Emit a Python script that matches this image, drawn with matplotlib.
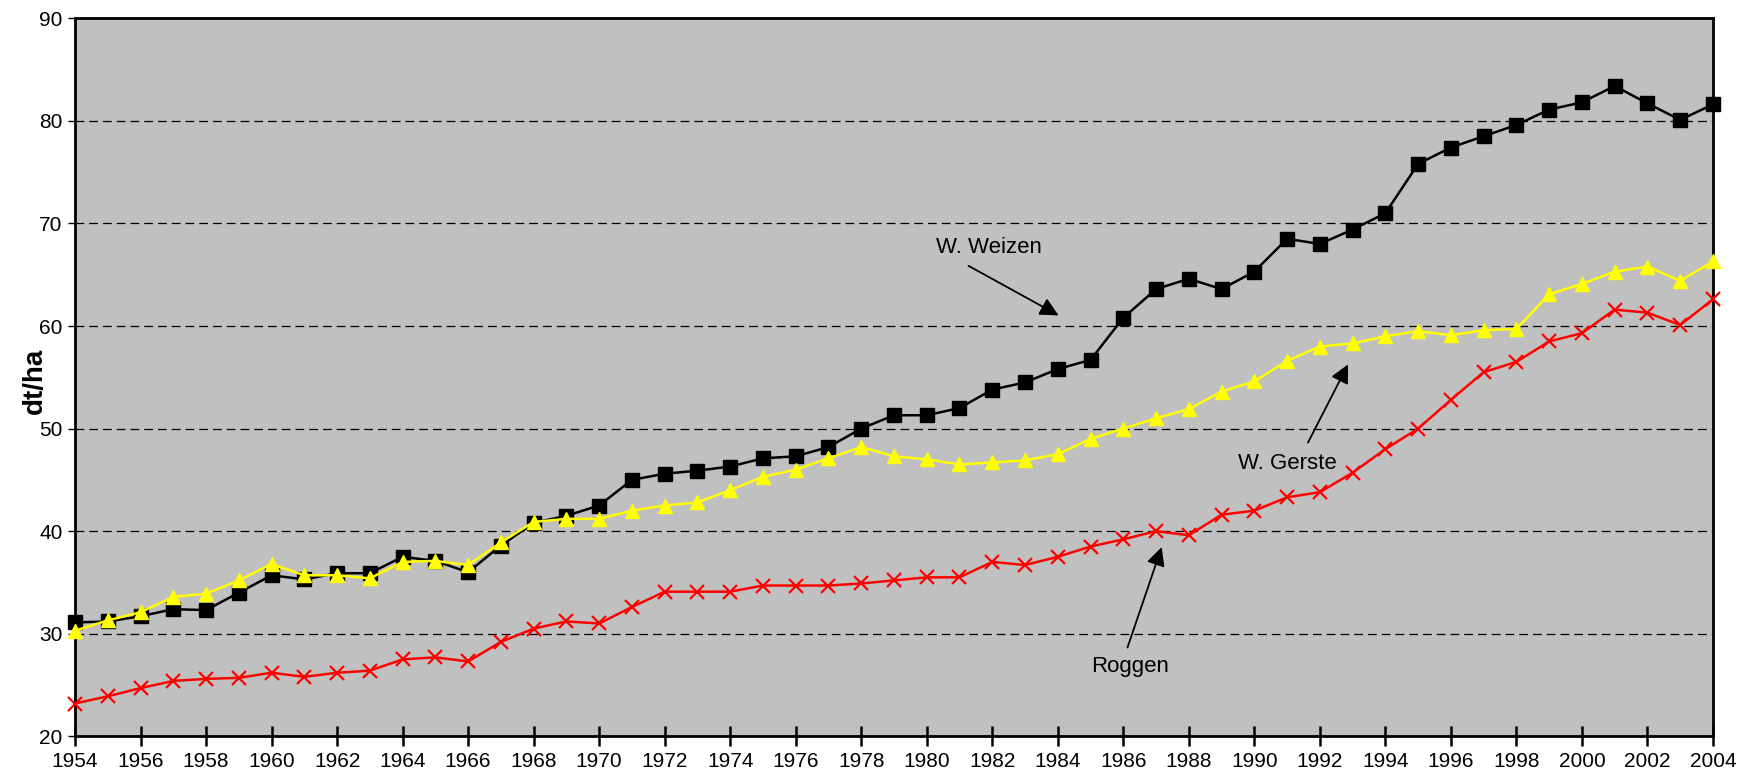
import matplotlib
matplotlib.use("Agg")
import matplotlib.pyplot as plt

plt.rcParams['font.family'] = ['Liberation Sans', 'DejaVu Sans']

jahre = list(range(1954, 2005))

weizen = [31.1, 31.2, 31.7, 32.4, 32.3, 34.0, 35.7, 35.3, 35.9, 35.9,
          37.5, 37.1, 36.0, 38.6, 40.8, 41.5, 42.5, 45.0, 45.6, 45.9,
          46.3, 47.1, 47.3, 48.2, 50.0, 51.3, 51.3, 52.0, 53.8, 54.5,
          55.8, 56.7, 60.8, 63.6, 64.6, 63.6, 65.3, 68.5, 68.0, 69.4,
          71.0, 75.8, 77.4, 78.5, 79.6, 81.1, 81.8, 83.4, 81.7, 80.1,
          81.6]

gerste = [30.3, 31.3, 32.1, 33.6, 33.9, 35.2, 36.8, 35.7, 35.7, 35.4,
          37.0, 37.1, 36.7, 38.9, 40.9, 41.2, 41.2, 42.0, 42.5, 42.8,
          44.0, 45.3, 46.0, 47.1, 48.2, 47.3, 47.0, 46.5, 46.7, 46.9,
          47.5, 49.0, 50.0, 51.0, 51.9, 53.6, 54.6, 56.6, 58.0, 58.3,
          59.0, 59.5, 59.1, 59.6, 59.7, 63.1, 64.1, 65.3, 65.8, 64.4,
          66.3]

roggen = [23.2, 23.9, 24.7, 25.4, 25.6, 25.7, 26.2, 25.8, 26.2, 26.4,
          27.5, 27.7, 27.3, 29.2, 30.5, 31.2, 31.0, 32.6, 34.1, 34.1,
          34.1, 34.7, 34.7, 34.7, 34.9, 35.2, 35.5, 35.5, 37.0, 36.7,
          37.5, 38.5, 39.2, 40.0, 39.6, 41.6, 42.0, 43.3, 43.8, 45.7,
          48.0, 50.0, 52.8, 55.5, 56.5, 58.5, 59.3, 61.6, 61.3, 60.1,
          62.6]

fig = plt.figure(figsize=(17.44, 7.81), dpi=100)
ax = fig.add_axes([0.0430, 0.0572, 0.9392, 0.9194])
ax.set_facecolor('#C0C0C0')

ax.plot(jahre, weizen, color='black', lw=1.8, marker='s', ms=9.5,
        mfc='black', mec='black', zorder=3, clip_on=False)
ax.plot(jahre, gerste, color='#FFFF00', lw=1.8, marker='^', ms=10.5,
        mfc='#FFFF00', mec='#FFFF00', zorder=4, clip_on=False)
ax.plot(jahre, roggen, color='#FF0000', lw=1.8, marker='x', ms=10,
        mew=1.6, zorder=3, clip_on=False)

ax.set_xlim(1954, 2004)
ax.set_ylim(20, 90)
ax.set_xticks(range(1954, 2005, 2))
ax.set_yticks(range(20, 91, 10))

ax.yaxis.grid(True, color='black', linestyle=(0, (7, 4)), lw=0.9)
ax.set_axisbelow(True)

for s in ax.spines.values():
    s.set_linewidth(2)
ax.tick_params(axis='x', direction='inout', length=14, width=1.8,
               labelsize=15, pad=4)
ax.tick_params(axis='y', direction='out', length=5, width=1,
               labelsize=15, pad=4)

ax.set_ylabel('dt/ha', fontsize=20, fontweight='bold')
ax.yaxis.set_label_coords(-0.0165, 0.495)

pfeil = dict(arrowstyle='-|>', color='black', lw=1.3, mutation_scale=28)
ax.annotate('', xy=(1984.1, 60.9), xytext=(1981.2, 66.0), arrowprops=pfeil)
ax.text(1981.9, 67.7, 'W. Weizen', fontsize=16, ha='center', va='center')

ax.annotate('', xy=(1992.9, 56.5), xytext=(1991.6, 48.4), arrowprops=pfeil)
ax.text(1991.0, 46.6, 'W. Gerste', fontsize=16, ha='center', va='center')

ax.annotate('', xy=(1987.2, 38.7), xytext=(1986.1, 28.4), arrowprops=pfeil)
ax.text(1986.2, 26.8, 'Roggen', fontsize=16, ha='center', va='center')

fig.savefig('out.png', dpi=100)
